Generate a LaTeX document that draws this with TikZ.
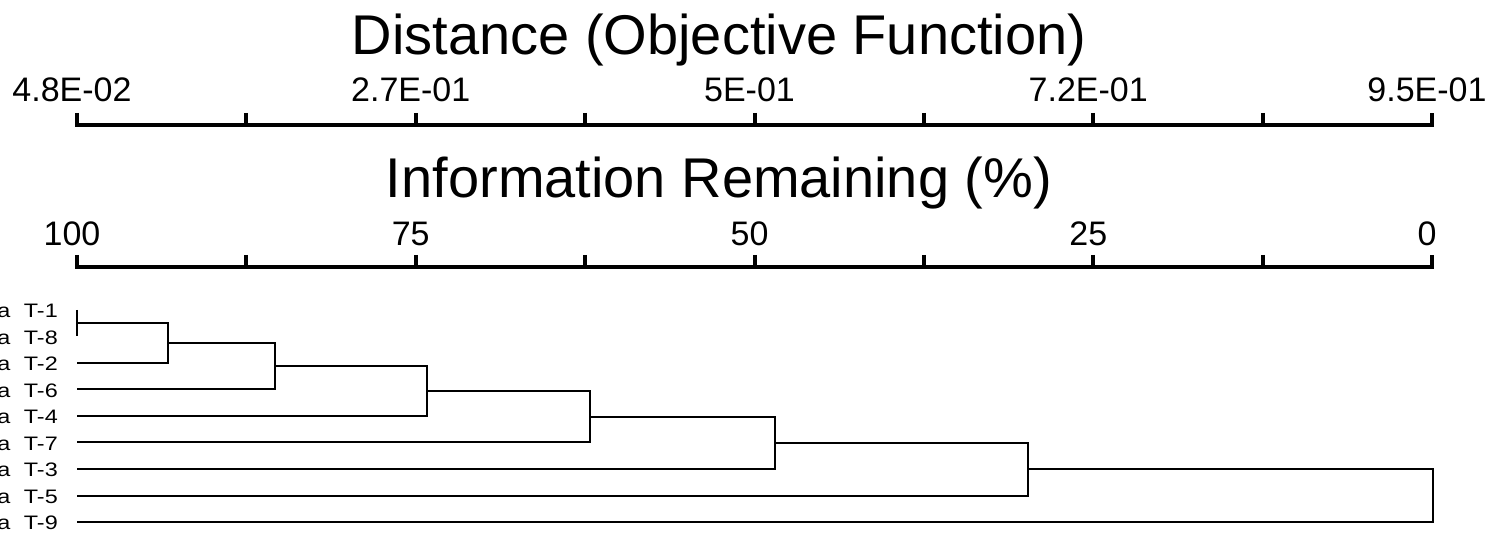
\documentclass[tikz,border=0pt]{standalone}
\usepackage{fontspec}
\setmainfont{Liberation Sans}
\newfontfamily\leaffont[FakeStretch=1.2]{Liberation Sans}
\usetikzlibrary{calc}

\begin{document}
\begin{tikzpicture}[x=1pt,y=-1pt,
    axis/.style={line width=4pt,line join=miter},
    link/.style={line width=2pt},
    title/.style={anchor=base,inner sep=0pt,font=\fontsize{56}{56}\selectfont},
    ticklab/.style={anchor=base,inner sep=0pt,font=\fontsize{34}{34}\selectfont},
    leaf/.style={anchor=east,inner sep=0pt,font=\leaffont\fontsize{19.5}{19.5}\selectfont}]
    \useasboundingbox (0,0) rectangle (1489,534);
    \node[title] (dist) at (719,55)  {Distance (Objective Function)};
    \node[title] (info) at (719,198) {Information Remaining (\%)};
    \draw[axis] (77,113) -- (77,125) -- (1432,125) -- (1432,113);
    \draw[axis] (77,255) -- (77,267) -- (1432,267) -- (1432,255);
    \foreach \i in {1,...,7} {
      \draw[axis] (77+169.375*\i,113) -- (77+169.375*\i,125);
      \draw[axis] (77+169.375*\i,255) -- (77+169.375*\i,267);
    }
    \foreach \d/\p [count=\i from 0] in {4.8E-02/100,2.7E-01/75,5E-01/50,7.2E-01/25,9.5E-01/0} {
      \node[ticklab] (d\i) at (72+338.75*\i,102) {\d};
      \node[ticklab] (p\i) at (72+338.75*\i,246) {\p};
    }
    \foreach \t [count=\i from 0] in {1,8,2,6,4,7,3,5,9} {
      \coordinate (l\t) at (77,310+26.5*\i);
      \node[leaf] (n\t) at (58,311+26.5*\i) {a\hspace{7pt} T-\t};
    }
    \coordinate (m1) at (77,323.25);
    \coordinate (m2) at (168,343.1);
    \coordinate (m3) at (275,366.3);
    \coordinate (m4) at (427,391.2);
    \coordinate (m5) at (590,416.8);
    \coordinate (m6) at (775,442.9);
    \coordinate (m7) at (1028,469.2);
    \coordinate (m8) at (1433,495.6);
    \draw[link] (l1) -- (l8);
    \foreach \a/\b/\c in {m1/m2/l2,m2/m3/l6,m3/m4/l4,m4/m5/l7,m5/m6/l3,m6/m7/l5,m7/m8/l9}
      \draw[link] (\a) -| (\b) |- (\c);
  \end{tikzpicture}
\end{document}
